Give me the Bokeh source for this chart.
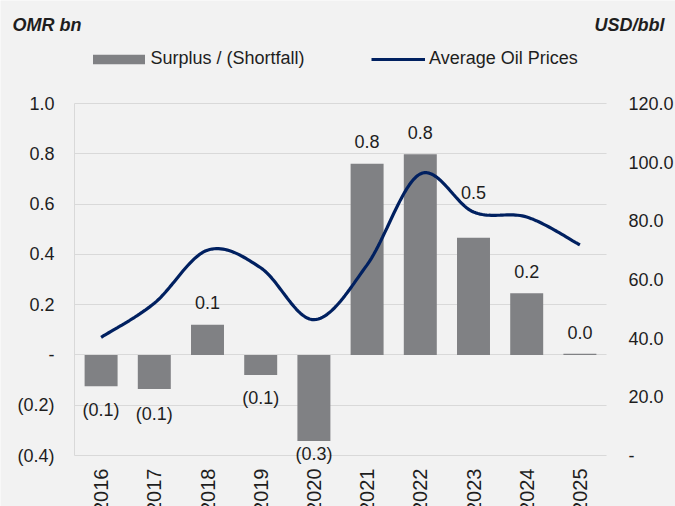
import numpy as np
from bokeh.plotting import figure
from bokeh.core.properties import value
from bokeh.models import (Range1d, LinearAxis, FixedTicker, CustomJSTickFormatter, Grid,
                          ColumnDataSource, LabelSet, Label, Legend, LegendItem)
from bokeh.embed import file_html
from bokeh.resources import INLINE

# ---- data ----
years = ["2016", "2017", "2018", "2019", "2020", "2021", "2022", "2023", "2024", "2025"]
surplus = [-0.125, -0.136, 0.12, -0.08, -0.342, 0.76, 0.798, 0.466, 0.245, 0.005]
oil_price = [40.3, 51.9, 70.0, 64.0, 46.3, 65.0, 96.0, 83.0, 81.3, 71.8]
left_ticks = [-0.4, -0.2, 0.0, 0.2, 0.4, 0.6, 0.8, 1.0]
right_ticks = [0, 20, 40, 60, 80, 100, 120]
# data-label pixel offsets (as placed in the original chart)
label_offsets = [-30, -31, 16, -29, -19, 16, 15, 39, 15, 15]

BG = "#f2f2f2"
GRID = "#d9d9d9"
BAR = "#808184"
NAVY = "#002060"
TXT = "#1e1e1e"
FONT = "Liberation Sans"

W, H = 675, 506
n = len(years)
# frame fills the canvas; axes are pinned at fixed data locations inside it
x_lo, x_hi = -74 / 53.2, n + 69 / 53.2
L_lo, L_hi = left_ticks[0], left_ticks[-1]
px_per_L = 352 / (L_hi - L_lo)
R_lo, R_hi = right_ticks[0], right_ticks[-1]
px_per_R = 352 / (R_hi - R_lo)

p = figure(width=W, height=H, x_range=Range1d(x_lo, x_hi),
           y_range=Range1d(L_lo - 51 / px_per_L, L_hi + 103 / px_per_L),
           x_axis_location=None, y_axis_location=None,
           output_backend="svg", toolbar_location=None, min_border=0)
p.background_fill_color = BG
p.border_fill_color = BG
p.outline_line_color = None
p.extra_y_ranges = {"oil": Range1d(R_lo - 51 / px_per_R, R_hi + 103 / px_per_R)}
p.xgrid.visible = False
p.ygrid.visible = False

# gridlines (left-axis ticks, only across the category span)
try:
    g = Grid(dimension=1, ticker=FixedTicker(ticks=left_ticks), cross_bounds=(0, n),
             grid_line_color=GRID, grid_line_width=1)
    p.add_layout(g)
except Exception:
    p.segment(x0=0, x1=n, y0=left_ticks, y1=left_ticks, line_color=GRID, line_width=1)

# bars
xs = np.arange(n) + 0.5
labels = [("(%.1f)" % abs(v)) if v < 0 else ("%.1f" % v) for v in surplus]
src = ColumnDataSource(dict(x=xs, top=surplus, lab=labels, off=label_offsets))
bars = p.vbar(x="x", top="top", width=0.62, source=src, fill_color=BAR, line_color=None)

# smooth (Catmull-Rom) line through the oil price points
ys_pts = np.array(oil_price, dtype=float)
P = np.concatenate([[ys_pts[0]], ys_pts, [ys_pts[-1]]])
X = np.concatenate([[xs[0]], xs, [xs[-1]]])
sx, sy = [], []
t = np.linspace(0, 1, 25)
for i in range(1, len(P) - 2):
    for arr, out in ((X, sx), (P, sy)):
        p0, p1, p2, p3 = arr[i - 1], arr[i], arr[i + 1], arr[i + 2]
        seg = 0.5 * ((2 * p1) + (-p0 + p2) * t + (2 * p0 - 5 * p1 + 4 * p2 - p3) * t ** 2
                     + (-p0 + 3 * p1 - 3 * p2 + p3) * t ** 3)
        out.extend(seg.tolist())
line = p.line(sx, sy, y_range_name="oil", line_color=NAVY, line_width=3.2)

# left axis
la = LinearAxis(ticker=FixedTicker(ticks=left_ticks), fixed_location=0, bounds=(L_lo, L_hi))
la.formatter = CustomJSTickFormatter(code="""
if (Math.abs(tick) < 1e-9) return '-';
if (tick < 0) return '(' + (-tick).toFixed(1) + ')';
return tick.toFixed(1);""")
la.axis_line_color = GRID
la.major_tick_line_color = None
la.minor_tick_line_color = None
la.major_tick_out = 0
la.major_label_standoff = 20
la.major_label_text_font = FONT
la.major_label_text_font_size = "18px"
la.major_label_text_color = TXT
p.add_layout(la, "left")

# right axis
ra = LinearAxis(y_range_name="oil", ticker=FixedTicker(ticks=right_ticks), fixed_location=n,
                bounds=(R_lo, R_hi))
ra.formatter = CustomJSTickFormatter(code="return Math.abs(tick) < 1e-9 ? '-' : tick.toFixed(1);")
ra.axis_line_color = None
ra.major_tick_line_color = None
ra.minor_tick_line_color = None
ra.major_tick_out = 0
ra.major_label_standoff = 22
ra.major_label_text_font = FONT
ra.major_label_text_font_size = "18px"
ra.major_label_text_color = TXT
p.add_layout(ra, "right")

# category axis
xa = LinearAxis(ticker=FixedTicker(ticks=list(xs)), fixed_location=L_lo, bounds=(0, n))
xa.formatter = CustomJSTickFormatter(args=dict(labels=years),
                                     code="return labels[Math.round(tick - 0.5)];")
xa.major_label_orientation = np.pi / 2
xa.axis_line_color = None
xa.major_tick_line_color = None
xa.minor_tick_line_color = None
xa.major_tick_out = 0
xa.major_label_standoff = 13
xa.major_label_text_font = FONT
xa.major_label_text_font_size = "20px"
xa.major_label_text_color = TXT
p.add_layout(xa, "below")

# value labels
ls = LabelSet(x="x", y="top", text="lab", source=src, y_offset="off", text_align="center",
              text_baseline="alphabetic", text_font=value(FONT), text_font_size=value("18px"),
              text_color=TXT)
p.add_layout(ls)

# legends (screen position measured from the frame's bottom-left)
common = dict(orientation="horizontal", padding=0, margin=0, background_fill_alpha=0,
              border_line_alpha=0, label_text_font=FONT, label_text_font_size="18px",
              label_text_color=TXT)
leg1 = Legend(items=[LegendItem(label="Surplus / (Shortfall)", renderers=[bars])],
              location=(85.5, 437), glyph_width=65, glyph_height=12, label_standoff=0, **common)
leg2 = Legend(items=[LegendItem(label="Average Oil Prices", renderers=[line])],
              location=(371, 437), glyph_width=54, glyph_height=12, label_standoff=4, **common)
p.add_layout(leg1)
p.add_layout(leg2)

# axis unit titles
p.add_layout(Label(x=12, y=H - 24, x_units="screen", y_units="screen", text="OMR bn",
                   text_baseline="alphabetic", text_font=FONT, text_font_size="18px",
                   text_font_style="bold italic", text_color=TXT))
p.add_layout(Label(x=664, y=H - 24, x_units="screen", y_units="screen", text="USD/bbl",
                   text_align="right", text_baseline="alphabetic", text_font=FONT,
                   text_font_size="18px", text_font_style="bold italic", text_color=TXT))

open("out.html", "w").write(file_html(p, INLINE))
